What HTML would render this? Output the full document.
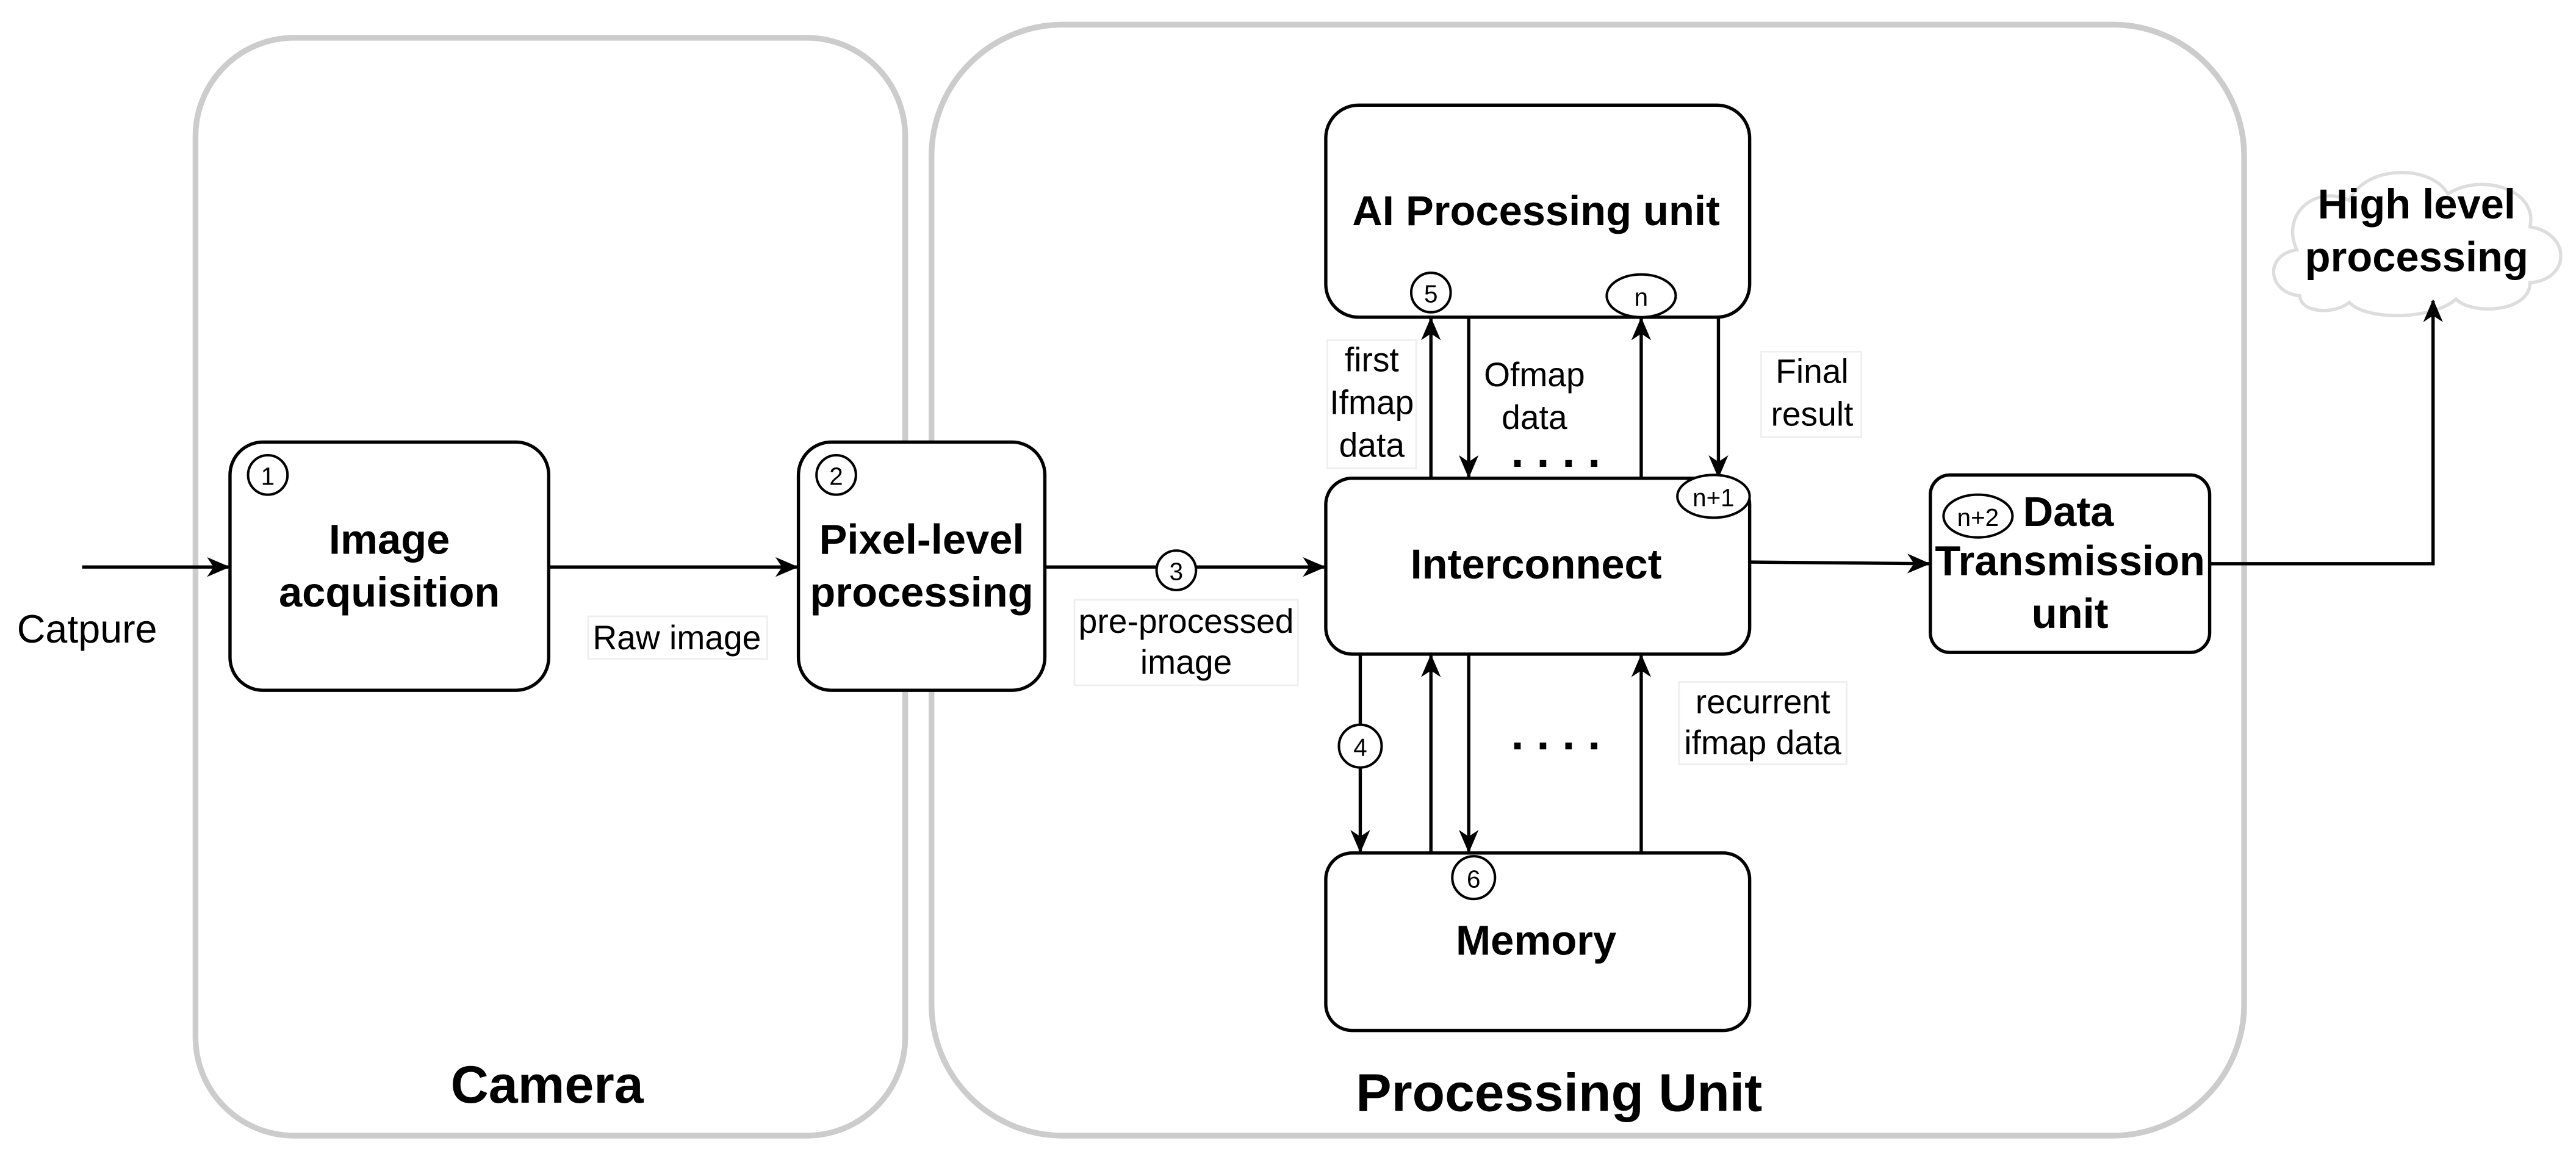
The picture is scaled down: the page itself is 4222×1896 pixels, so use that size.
<!DOCTYPE html>
<html><head><meta charset="utf-8"><style>
html,body{margin:0;padding:0;background:#fff;}
svg{display:block;}
text{font-family:"Liberation Sans",Arial,sans-serif;}
.b{font-weight:bold;font-size:25.5px;text-anchor:middle;}
.l{font-size:20.5px;text-anchor:middle;}
.s{font-size:15px;text-anchor:middle;}
</style></head><body>
<svg width="4222" height="1896" viewBox="0 0 1568 704" preserveAspectRatio="none" xmlns="http://www.w3.org/2000/svg">
<defs><marker id="a" markerWidth="14" markerHeight="12" refX="13" refY="6" orient="auto" markerUnits="userSpaceOnUse"><path d="M0,0 L14,6 L0,12 L4,6 z" fill="#000"/></marker></defs>
<rect x="119" y="23" width="432" height="668" rx="60" fill="none" stroke="#ccc" stroke-width="3.5"/>
<rect x="567" y="15" width="799" height="676" rx="80" fill="none" stroke="#ccc" stroke-width="3.5"/>
<g fill="#fff" stroke="#000" stroke-width="2">
<rect x="140" y="269" width="194" height="151" rx="20"/>
<rect x="486" y="269" width="150" height="151" rx="20"/>
<rect x="807" y="64" width="258" height="129" rx="20"/>
<rect x="807" y="291" width="258" height="107" rx="16"/>
<rect x="807" y="519" width="258" height="108" rx="16"/>
<rect x="1175" y="289" width="170" height="108" rx="12"/>
</g>
<path d="M1400,180 C1380,178 1378,155 1398,152 C1388,130 1410,112 1430,122 C1440,100 1480,100 1490,118 C1510,105 1545,115 1540,138 C1565,142 1565,170 1540,172 C1540,190 1505,192 1495,182 C1480,195 1440,195 1430,184 C1420,192 1400,190 1400,180 z" fill="#fff" stroke="#ddd" stroke-width="2"/>
<g stroke="#000" stroke-width="2" fill="none" marker-end="url(#a)">
<path d="M50,345 L139,345"/>
<path d="M334,345 L485,345"/>
<path d="M636,345 L806,345"/>
<path d="M871,291 L871,194"/>
<path d="M894,193 L894,290"/>
<path d="M999,291 L999,194"/>
<path d="M1046,193 L1046,290"/>
<path d="M1065,342 L1174,343"/>
<path d="M1345,343 L1481,343 L1481,183"/>
<path d="M828,398 L828,518"/>
<path d="M871,519 L871,399"/>
<path d="M894,398 L894,518"/>
<path d="M999,519 L999,399"/>
</g>
<g fill="#fff" stroke="#000" stroke-width="1.5">
<circle cx="163" cy="289" r="12"/><circle cx="509" cy="289" r="12"/>
<circle cx="716" cy="347" r="12"/><circle cx="871" cy="178" r="12"/>
<ellipse cx="999" cy="180" rx="21" ry="13"/><ellipse cx="1043" cy="302" rx="22" ry="13"/>
<circle cx="828" cy="454" r="13"/><circle cx="897" cy="534" r="13"/>
<ellipse cx="1204" cy="314" rx="21" ry="13"/>
</g>
<g class="s">
<text x="163" y="295">1</text><text x="509" y="295">2</text><text x="716" y="353">3</text>
<text x="871" y="184">5</text><text x="999" y="186">n</text><text x="1043" y="308">n+1</text>
<text x="828" y="460">4</text><text x="897" y="540">6</text><text x="1204" y="320">n+2</text>
</g>
<g fill="#fff" stroke="#eee" stroke-width="1">
<rect x="358" y="375" width="109" height="26"/><rect x="654" y="365" width="136" height="52"/>
<rect x="808" y="207" width="54" height="78"/><rect x="1072" y="214" width="61" height="52"/>
<rect x="1022" y="415" width="102" height="50"/>
</g>
<g class="b">
<text x="237" y="337">Image</text><text x="237" y="369">acquisition</text>
<text x="561" y="337">Pixel-level</text><text x="561" y="369">processing</text>
<text x="935" y="137">AI Processing unit</text>
<text x="935" y="352">Interconnect</text>
<text x="935" y="581">Memory</text>
<text x="1259" y="320">Data</text><text x="1260" y="350">Transmission</text><text x="1260" y="382">unit</text>
<text x="1471" y="133">High level</text><text x="1471" y="165">processing</text>
<text x="333" y="671" style="font-size:32px">Camera</text>
<text x="949" y="676" style="font-size:32.5px">Processing Unit</text>
</g>
<g class="l">
<text x="53" y="391" style="font-size:24px">Catpure</text>
<text x="412" y="395">Raw image</text>
<text x="722" y="385">pre-processed</text><text x="722" y="410">image</text>
<text x="835" y="226">first</text><text x="835" y="252">Ifmap</text><text x="835" y="278">data</text>
<text x="934" y="235">Ofmap</text><text x="934" y="261">data</text>
<text x="1103" y="233">Final</text><text x="1103" y="259">result</text>
<text x="1073" y="434">recurrent</text><text x="1073" y="459">ifmap data</text>
<text x="947" y="284" style="font-size:28px;font-weight:bold">. . . .</text>
<text x="947" y="456" style="font-size:28px;font-weight:bold">. . . .</text>
</g>
</svg>
</body></html>
